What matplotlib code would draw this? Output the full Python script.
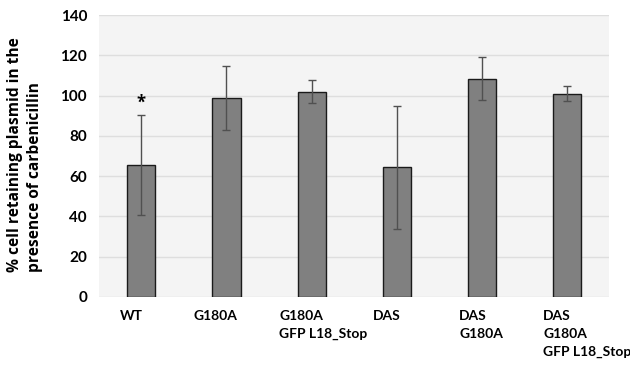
import matplotlib
matplotlib.use("Agg")
import matplotlib.pyplot as plt
from matplotlib import font_manager as fm
import numpy as np

categories = ["WT", "G180A", "G180A\nGFP L18_Stop", "DAS", "DAS\nG180A", "DAS\nG180A\nGFP L18_Stop"]
values = [65.5, 98.8, 101.9, 64.4, 108.4, 101.0]
errors = [25.0, 16.0, 5.8, 30.6, 10.8, 3.7]
star_labels = ["*", "", "", "", "", ""]
ylabel = "% cell retaining plasmid in the\npresence of carbenicillin"

names = {f.name for f in fm.fontManager.ttflist}
tick_font = "Lato" if "Lato" in names else "Liberation Sans"
label_font = "Open Sans" if "Open Sans" in names else "DejaVu Sans"

fig = plt.figure(figsize=(6.3, 3.67), dpi=100)
ax = fig.add_axes([0.157, 0.191, 0.81, 0.768])
ax.set_facecolor("#f4f4f4")

x = np.arange(len(categories))
ax.bar(x, values, width=0.33, color="#808080", edgecolor="#1a1a1a", linewidth=1.0, zorder=3)
ax.errorbar(x, values, yerr=errors, fmt="none", ecolor="#505050", elinewidth=1.0,
            capsize=3, capthick=1.0, zorder=4)
for xi, v, e, s in zip(x, values, errors, star_labels):
    if s:
        ax.text(xi, v + e + 1.5, s, ha="center", va="bottom", fontsize=12,
                fontweight="bold", family=label_font)

ax.set_xlim(-0.5, len(categories) - 0.5)
ax.set_ylim(0, 140)
ax.set_yticks(np.arange(0, 141, 20))
ax.yaxis.grid(True, color="#dedede", linewidth=1.0, zorder=0)
ax.set_axisbelow(True)
for sp in ax.spines.values():
    sp.set_visible(False)
ax.tick_params(axis="both", length=0)
ax.tick_params(axis="y", pad=8.5)
for lab in ax.get_yticklabels():
    lab.set_fontfamily(tick_font)
    lab.set_fontweight("bold")
    lab.set_fontsize(11)

# x labels, left aligned as in the reference
ax.set_xticks([])
label_left_px = [120, 194, 279, 373, 459, 543]
for px, cat in zip(label_left_px, categories):
    fig.text(px / 630, 1 - 310 / 367, cat, ha="left", va="top", fontsize=10,
             fontweight="bold", family=tick_font, linespacing=1.6)

fig.text(0.040, 0.58, ylabel, rotation=90, ha="center", va="center",
         fontsize=11.2, fontweight="bold", family=label_font, linespacing=1.3,
         multialignment="left")

fig.savefig("out.png", dpi=100)
